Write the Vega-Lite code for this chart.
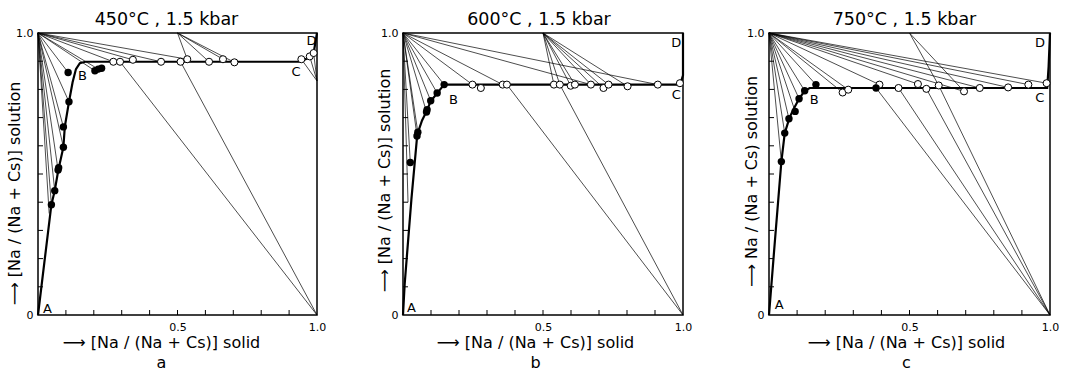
{
"$schema": "https://vega.github.io/schema/vega-lite/v6.json",
"background": "white",
"padding": {"left": 5, "top": 9, "right": 5, "bottom": 5},
"bounds": "flush",
"spacing": 86,
"config": {
  "font": "DejaVu Sans",
  "view": {"stroke": "black", "strokeWidth": 1.5},
  "axis": {"domain": false, "grid": false, "ticks": false, "labelColor": "black", "titleColor": "black", "labelFontSize": 11, "titleFontSize": 16, "titleFontWeight": "normal", "labelOverlap": false, "labelFlush": false},
  "axisX": {"labelPadding": 6, "titleBaseline": "top", "titleY": 19, "titleLineHeight": 20},
  "axisY": {"labelPadding": 5, "titleBaseline": "bottom", "titleAlign": "center"},
  "title": {"fontSize": 17.5, "fontWeight": "normal", "offset": -1, "color": "black", "frame": "group"}
},
"datasets": {
  "ticks": [
    {"o":"v","x":0.1,"y":0},{"o":"v","x":0.2,"y":0},{"o":"v","x":0.3,"y":0},{"o":"v","x":0.4,"y":0},{"o":"v","x":0.5,"y":0},{"o":"v","x":0.6,"y":0},{"o":"v","x":0.7,"y":0},{"o":"v","x":0.8,"y":0},{"o":"v","x":0.9,"y":0},
    {"o":"h","x":0,"y":0.1},{"o":"h","x":0,"y":0.2},{"o":"h","x":0,"y":0.3},{"o":"h","x":0,"y":0.4},{"o":"h","x":0,"y":0.5},{"o":"h","x":0,"y":0.6},{"o":"h","x":0,"y":0.7},{"o":"h","x":0,"y":0.8},{"o":"h","x":0,"y":0.9}
  ],
  "ties": [
    {"p":"a","x":0,"y":1,"xe":0.040,"ye":0.360},{"p":"a","x":0,"y":1,"xe":0.048,"ye":0.391},{"p":"a","x":0,"y":1,"xe":0.060,"ye":0.441},{"p":"a","x":0,"y":1,"xe":0.072,"ye":0.514},{"p":"a","x":0,"y":1,"xe":0.091,"ye":0.595},{"p":"a","x":0,"y":1,"xe":0.091,"ye":0.667},{"p":"a","x":0,"y":1,"xe":0.111,"ye":0.756},{"p":"a","x":0,"y":1,"xe":0.108,"ye":0.860},{"p":"a","x":0,"y":1,"xe":0.204,"ye":0.866},{"p":"a","x":0,"y":1,"xe":0.216,"ye":0.872},{"p":"a","x":0,"y":1,"xe":0.270,"ye":0.898},{"p":"a","x":0,"y":1,"xe":0.340,"ye":0.905},{"p":"a","x":0,"y":1,"xe":0.441,"ye":0.898},{"p":"a","x":0,"y":1,"xe":0.535,"ye":0.907},
    {"p":"a","x":0.5,"y":1,"xe":0.535,"ye":0.907},{"p":"a","x":0.5,"y":1,"xe":0.613,"ye":0.898},{"p":"a","x":0.5,"y":1,"xe":0.663,"ye":0.907},{"p":"a","x":0.5,"y":1,"xe":0.704,"ye":0.896},
    {"p":"a","x":1,"y":0,"xe":0.294,"ye":0.898},{"p":"a","x":1,"y":0,"xe":0.511,"ye":0.898},
    {"p":"a","x":1,"y":0.83,"xe":0.944,"ye":0.907},{"p":"a","x":1,"y":0.83,"xe":0.974,"ye":0.917},{"p":"a","x":1,"y":0.83,"xe":0.988,"ye":0.929},
    {"p":"b","x":0,"y":1,"xe":0.018,"ye":0.400},{"p":"b","x":0,"y":1,"xe":0.026,"ye":0.541},{"p":"b","x":0,"y":1,"xe":0.050,"ye":0.635},{"p":"b","x":0,"y":1,"xe":0.053,"ye":0.648},{"p":"b","x":0,"y":1,"xe":0.084,"ye":0.720},{"p":"b","x":0,"y":1,"xe":0.099,"ye":0.760},{"p":"b","x":0,"y":1,"xe":0.122,"ye":0.787},{"p":"b","x":0,"y":1,"xe":0.147,"ye":0.817},{"p":"b","x":0,"y":1,"xe":0.248,"ye":0.817},{"p":"b","x":0,"y":1,"xe":0.356,"ye":0.817},{"p":"b","x":0,"y":1,"xe":0.671,"ye":0.817},{"p":"b","x":0,"y":1,"xe":0.910,"ye":0.817},
    {"p":"b","x":0.5,"y":1,"xe":0.539,"ye":0.817},{"p":"b","x":0.5,"y":1,"xe":0.560,"ye":0.817},{"p":"b","x":0.5,"y":1,"xe":0.599,"ye":0.813},{"p":"b","x":0.5,"y":1,"xe":0.614,"ye":0.817},{"p":"b","x":0.5,"y":1,"xe":0.671,"ye":0.817},{"p":"b","x":0.5,"y":1,"xe":0.716,"ye":0.805},{"p":"b","x":0.5,"y":1,"xe":0.734,"ye":0.817},{"p":"b","x":0.5,"y":1,"xe":0.802,"ye":0.811},
    {"p":"b","x":1,"y":0,"xe":0.371,"ye":0.817},{"p":"b","x":1,"y":0,"xe":0.560,"ye":0.817},
    {"p":"c","x":0,"y":1,"xe":0.044,"ye":0.544},{"p":"c","x":0,"y":1,"xe":0.056,"ye":0.645},{"p":"c","x":0,"y":1,"xe":0.071,"ye":0.696},{"p":"c","x":0,"y":1,"xe":0.093,"ye":0.722},{"p":"c","x":0,"y":1,"xe":0.107,"ye":0.767},{"p":"c","x":0,"y":1,"xe":0.127,"ye":0.795},{"p":"c","x":0,"y":1,"xe":0.167,"ye":0.817},{"p":"c","x":0,"y":1,"xe":0.262,"ye":0.789},{"p":"c","x":0,"y":1,"xe":0.282,"ye":0.799},{"p":"c","x":0,"y":1,"xe":0.393,"ye":0.817},{"p":"c","x":0,"y":1,"xe":0.530,"ye":0.819},{"p":"c","x":0,"y":1,"xe":0.694,"ye":0.793},{"p":"c","x":0,"y":1,"xe":0.750,"ye":0.805},{"p":"c","x":0,"y":1,"xe":0.851,"ye":0.807},{"p":"c","x":0,"y":1,"xe":0.923,"ye":0.817},{"p":"c","x":0,"y":1,"xe":0.988,"ye":0.822},
    {"p":"c","x":0.5,"y":1,"xe":0.604,"ye":0.814},{"p":"c","x":0.5,"y":1,"xe":0.694,"ye":0.793},
    {"p":"c","x":1,"y":0,"xe":0.381,"ye":0.805},{"p":"c","x":1,"y":0,"xe":0.461,"ye":0.805},{"p":"c","x":1,"y":0,"xe":0.560,"ye":0.802},{"p":"c","x":1,"y":0,"xe":0.604,"ye":0.814}
  ],
  "curve": [
    {"p":"a","i":1,"x":0,"y":0},{"p":"a","i":2,"x":0.024,"y":0.196},{"p":"a","i":3,"x":0.048,"y":0.391},{"p":"a","i":4,"x":0.060,"y":0.441},{"p":"a","i":5,"x":0.073,"y":0.515},{"p":"a","i":6,"x":0.091,"y":0.595},{"p":"a","i":7,"x":0.096,"y":0.667},{"p":"a","i":8,"x":0.111,"y":0.756},{"p":"a","i":9,"x":0.124,"y":0.825},{"p":"a","i":10,"x":0.136,"y":0.872},{"p":"a","i":11,"x":0.150,"y":0.893},{"p":"a","i":12,"x":0.170,"y":0.898},{"p":"a","i":13,"x":0.940,"y":0.898},{"p":"a","i":14,"x":0.970,"y":0.912},{"p":"a","i":15,"x":0.988,"y":0.929},{"p":"a","i":16,"x":1.0,"y":1.0},
    {"p":"b","i":1,"x":0,"y":0},{"p":"b","i":2,"x":0.006,"y":0.11},{"p":"b","i":3,"x":0.030,"y":0.41},{"p":"b","i":4,"x":0.051,"y":0.640},{"p":"b","i":5,"x":0.068,"y":0.690},{"p":"b","i":6,"x":0.084,"y":0.722},{"p":"b","i":7,"x":0.099,"y":0.758},{"p":"b","i":8,"x":0.122,"y":0.787},{"p":"b","i":9,"x":0.147,"y":0.817},{"p":"b","i":10,"x":0.990,"y":0.817},{"p":"b","i":11,"x":1.0,"y":0.85},{"p":"b","i":12,"x":1.0,"y":1.0},
    {"p":"c","i":1,"x":0,"y":0},{"p":"c","i":2,"x":0.020,"y":0.25},{"p":"c","i":3,"x":0.044,"y":0.544},{"p":"c","i":4,"x":0.056,"y":0.645},{"p":"c","i":5,"x":0.073,"y":0.700},{"p":"c","i":6,"x":0.090,"y":0.735},{"p":"c","i":7,"x":0.107,"y":0.767},{"p":"c","i":8,"x":0.127,"y":0.795},{"p":"c","i":9,"x":0.145,"y":0.805},{"p":"c","i":10,"x":0.990,"y":0.805},{"p":"c","i":11,"x":0.995,"y":0.88},{"p":"c","i":12,"x":1.0,"y":1.0}
  ],
  "pts": [
    {"p":"a","k":"f","x":0.048,"y":0.391},{"p":"a","k":"f","x":0.060,"y":0.441},{"p":"a","k":"f","x":0.072,"y":0.514},{"p":"a","k":"f","x":0.074,"y":0.522},{"p":"a","k":"f","x":0.091,"y":0.595},{"p":"a","k":"f","x":0.091,"y":0.667},{"p":"a","k":"f","x":0.111,"y":0.756},{"p":"a","k":"f","x":0.108,"y":0.860},{"p":"a","k":"f","x":0.204,"y":0.866},{"p":"a","k":"f","x":0.216,"y":0.872},{"p":"a","k":"f","x":0.228,"y":0.875},
    {"p":"a","k":"o","x":0.270,"y":0.898},{"p":"a","k":"o","x":0.294,"y":0.898},{"p":"a","k":"o","x":0.340,"y":0.905},{"p":"a","k":"o","x":0.441,"y":0.898},{"p":"a","k":"o","x":0.511,"y":0.898},{"p":"a","k":"o","x":0.535,"y":0.907},{"p":"a","k":"o","x":0.613,"y":0.898},{"p":"a","k":"o","x":0.663,"y":0.907},{"p":"a","k":"o","x":0.704,"y":0.896},{"p":"a","k":"o","x":0.944,"y":0.907},{"p":"a","k":"o","x":0.974,"y":0.917},{"p":"a","k":"o","x":0.988,"y":0.929},
    {"p":"b","k":"f","x":0.026,"y":0.541},{"p":"b","k":"f","x":0.050,"y":0.635},{"p":"b","k":"f","x":0.053,"y":0.648},{"p":"b","k":"f","x":0.084,"y":0.720},{"p":"b","k":"f","x":0.086,"y":0.728},{"p":"b","k":"f","x":0.099,"y":0.760},{"p":"b","k":"f","x":0.122,"y":0.787},{"p":"b","k":"f","x":0.147,"y":0.817},
    {"p":"b","k":"o","x":0.248,"y":0.817},{"p":"b","k":"o","x":0.278,"y":0.805},{"p":"b","k":"o","x":0.356,"y":0.817},{"p":"b","k":"o","x":0.371,"y":0.817},{"p":"b","k":"o","x":0.539,"y":0.817},{"p":"b","k":"o","x":0.560,"y":0.817},{"p":"b","k":"o","x":0.599,"y":0.813},{"p":"b","k":"o","x":0.614,"y":0.817},{"p":"b","k":"o","x":0.671,"y":0.817},{"p":"b","k":"o","x":0.716,"y":0.805},{"p":"b","k":"o","x":0.734,"y":0.817},{"p":"b","k":"o","x":0.802,"y":0.811},{"p":"b","k":"o","x":0.910,"y":0.817},{"p":"b","k":"o","x":0.989,"y":0.822},
    {"p":"c","k":"f","x":0.044,"y":0.544},{"p":"c","k":"f","x":0.056,"y":0.645},{"p":"c","k":"f","x":0.071,"y":0.696},{"p":"c","k":"f","x":0.093,"y":0.722},{"p":"c","k":"f","x":0.107,"y":0.767},{"p":"c","k":"f","x":0.127,"y":0.795},{"p":"c","k":"f","x":0.167,"y":0.817},{"p":"c","k":"f","x":0.381,"y":0.805},
    {"p":"c","k":"o","x":0.262,"y":0.789},{"p":"c","k":"o","x":0.282,"y":0.799},{"p":"c","k":"o","x":0.393,"y":0.817},{"p":"c","k":"o","x":0.461,"y":0.805},{"p":"c","k":"o","x":0.530,"y":0.819},{"p":"c","k":"o","x":0.560,"y":0.802},{"p":"c","k":"o","x":0.604,"y":0.814},{"p":"c","k":"o","x":0.694,"y":0.793},{"p":"c","k":"o","x":0.750,"y":0.805},{"p":"c","k":"o","x":0.851,"y":0.807},{"p":"c","k":"o","x":0.923,"y":0.817},{"p":"c","k":"o","x":0.988,"y":0.822}
  ],
  "labels": [
    {"p":"a","t":"A","x":0.034,"y":0.020},{"p":"a","t":"B","x":0.159,"y":0.846},{"p":"a","t":"C","x":0.925,"y":0.860},{"p":"a","t":"D","x":0.980,"y":0.973},
    {"p":"b","t":"A","x":0.030,"y":0.024},{"p":"b","t":"B","x":0.180,"y":0.763},{"p":"b","t":"C","x":0.976,"y":0.781},{"p":"b","t":"D","x":0.976,"y":0.964},
    {"p":"c","t":"A","x":0.036,"y":0.036},{"p":"c","t":"B","x":0.161,"y":0.763},{"p":"c","t":"C","x":0.964,"y":0.769},{"p":"c","t":"D","x":0.964,"y":0.964}
  ]
},
"hconcat": [
  {
    "width": 279, "height": 282,
    "title": {"text": "450°C , 1.5 kbar", "dx": -11},
    "encoding": {
      "x": {"field": "x", "type": "quantitative", "scale": {"domain": [0, 1], "nice": false, "zero": false}, "axis": {"values": [0.5, 1], "labelExpr": "datum.value == 1 ? '1.0' : '0.5'", "title": ["⟶  [Na / (Na + Cs)] solid", "a"], "titleX": 123}},
      "y": {"field": "y", "type": "quantitative", "scale": {"domain": [0, 1], "nice": false, "zero": false}, "axis": {"values": [0, 1], "labelExpr": "datum.value == 0 ? '0' : '1.0'", "title": "⟶  [Na / (Na + Cs)] solution", "titleX": -16, "titleY": 160}}
    },
    "layer": [
      {"data": {"name": "ticks"}, "transform": [{"filter": "datum.o == 'v'"}], "mark": {"type": "tick", "orient": "vertical", "size": 10, "thickness": 1, "color": "black", "opacity": 1, "clip": true}},
      {"data": {"name": "ticks"}, "transform": [{"filter": "datum.o == 'h'"}], "mark": {"type": "tick", "orient": "horizontal", "size": 10, "thickness": 1, "color": "black", "opacity": 1, "clip": true}},
      {"data": {"name": "ties"}, "transform": [{"filter": "datum.p == 'a'"}], "mark": {"type": "rule", "strokeWidth": 0.7, "color": "black"}, "encoding": {"x2": {"field": "xe"}, "y2": {"field": "ye"}}},
      {"data": {"name": "curve"}, "transform": [{"filter": "datum.p == 'a'"}], "mark": {"type": "line", "strokeWidth": 2.2, "color": "black"}, "encoding": {"order": {"field": "i", "type": "quantitative"}}},
      {"data": {"name": "pts"}, "transform": [{"filter": "datum.p == 'a' && datum.k == 'o'"}], "mark": {"type": "point", "shape": "circle", "filled": true, "fill": "white", "stroke": "black", "strokeWidth": 1, "size": 50, "opacity": 1}},
      {"data": {"name": "pts"}, "transform": [{"filter": "datum.p == 'a' && datum.k == 'f'"}], "mark": {"type": "point", "shape": "circle", "filled": true, "color": "black", "size": 55, "opacity": 1}},
      {"data": {"name": "labels"}, "transform": [{"filter": "datum.p == 'a'"}], "mark": {"type": "text", "fontSize": 13, "color": "black"}, "encoding": {"text": {"field": "t"}}}
    ]
  },
  {
    "width": 280, "height": 282,
    "title": {"text": "600°C , 1.5 kbar", "dx": -4},
    "encoding": {
      "x": {"field": "x", "type": "quantitative", "scale": {"domain": [0, 1], "nice": false, "zero": false}, "axis": {"values": [0.5, 1], "labelExpr": "datum.value == 1 ? '1.0' : '0.5'", "title": ["⟶  [Na / (Na + Cs)] solid", "b"], "titleX": 132}},
      "y": {"field": "y", "type": "quantitative", "scale": {"domain": [0, 1], "nice": false, "zero": false}, "axis": {"values": [0, 1], "labelExpr": "datum.value == 0 ? '0' : '1.0'", "title": "⟶  [Na / (Na + Cs)] solution", "titleX": -11, "titleY": 147}}
    },
    "layer": [
      {"data": {"name": "ticks"}, "transform": [{"filter": "datum.o == 'v'"}], "mark": {"type": "tick", "orient": "vertical", "size": 10, "thickness": 1, "color": "black", "opacity": 1, "clip": true}},
      {"data": {"name": "ticks"}, "transform": [{"filter": "datum.o == 'h'"}], "mark": {"type": "tick", "orient": "horizontal", "size": 10, "thickness": 1, "color": "black", "opacity": 1, "clip": true}},
      {"data": {"name": "ties"}, "transform": [{"filter": "datum.p == 'b'"}], "mark": {"type": "rule", "strokeWidth": 0.7, "color": "black"}, "encoding": {"x2": {"field": "xe"}, "y2": {"field": "ye"}}},
      {"data": {"name": "curve"}, "transform": [{"filter": "datum.p == 'b'"}], "mark": {"type": "line", "strokeWidth": 2.2, "color": "black"}, "encoding": {"order": {"field": "i", "type": "quantitative"}}},
      {"data": {"name": "pts"}, "transform": [{"filter": "datum.p == 'b' && datum.k == 'o'"}], "mark": {"type": "point", "shape": "circle", "filled": true, "fill": "white", "stroke": "black", "strokeWidth": 1, "size": 50, "opacity": 1}},
      {"data": {"name": "pts"}, "transform": [{"filter": "datum.p == 'b' && datum.k == 'f'"}], "mark": {"type": "point", "shape": "circle", "filled": true, "color": "black", "size": 55, "opacity": 1}},
      {"data": {"name": "labels"}, "transform": [{"filter": "datum.p == 'b'"}], "mark": {"type": "text", "fontSize": 13, "color": "black"}, "encoding": {"text": {"field": "t"}}}
    ]
  },
  {
    "width": 281, "height": 282,
    "title": {"text": "750°C , 1.5 kbar", "dx": -5},
    "encoding": {
      "x": {"field": "x", "type": "quantitative", "scale": {"domain": [0, 1], "nice": false, "zero": false}, "axis": {"values": [0.5, 1], "labelExpr": "datum.value == 1 ? '1.0' : '0.5'", "title": ["⟶  [Na / (Na + Cs)] solid", "c"], "titleX": 137}},
      "y": {"field": "y", "type": "quantitative", "scale": {"domain": [0, 1], "nice": false, "zero": false}, "axis": {"values": [0, 1], "labelExpr": "datum.value == 0 ? '0' : '1.0'", "title": "⟶  Na / (Na + Cs) solution", "titleX": -10, "titleY": 148}}
    },
    "layer": [
      {"data": {"name": "ticks"}, "transform": [{"filter": "datum.o == 'v'"}], "mark": {"type": "tick", "orient": "vertical", "size": 10, "thickness": 1, "color": "black", "opacity": 1, "clip": true}},
      {"data": {"name": "ticks"}, "transform": [{"filter": "datum.o == 'h'"}], "mark": {"type": "tick", "orient": "horizontal", "size": 10, "thickness": 1, "color": "black", "opacity": 1, "clip": true}},
      {"data": {"name": "ties"}, "transform": [{"filter": "datum.p == 'c'"}], "mark": {"type": "rule", "strokeWidth": 0.7, "color": "black"}, "encoding": {"x2": {"field": "xe"}, "y2": {"field": "ye"}}},
      {"data": {"name": "curve"}, "transform": [{"filter": "datum.p == 'c'"}], "mark": {"type": "line", "strokeWidth": 2.2, "color": "black"}, "encoding": {"order": {"field": "i", "type": "quantitative"}}},
      {"data": {"name": "pts"}, "transform": [{"filter": "datum.p == 'c' && datum.k == 'o'"}], "mark": {"type": "point", "shape": "circle", "filled": true, "fill": "white", "stroke": "black", "strokeWidth": 1, "size": 50, "opacity": 1}},
      {"data": {"name": "pts"}, "transform": [{"filter": "datum.p == 'c' && datum.k == 'f'"}], "mark": {"type": "point", "shape": "circle", "filled": true, "color": "black", "size": 55, "opacity": 1}},
      {"data": {"name": "labels"}, "transform": [{"filter": "datum.p == 'c'"}], "mark": {"type": "text", "fontSize": 13, "color": "black"}, "encoding": {"text": {"field": "t"}}}
    ]
  }
]
}
